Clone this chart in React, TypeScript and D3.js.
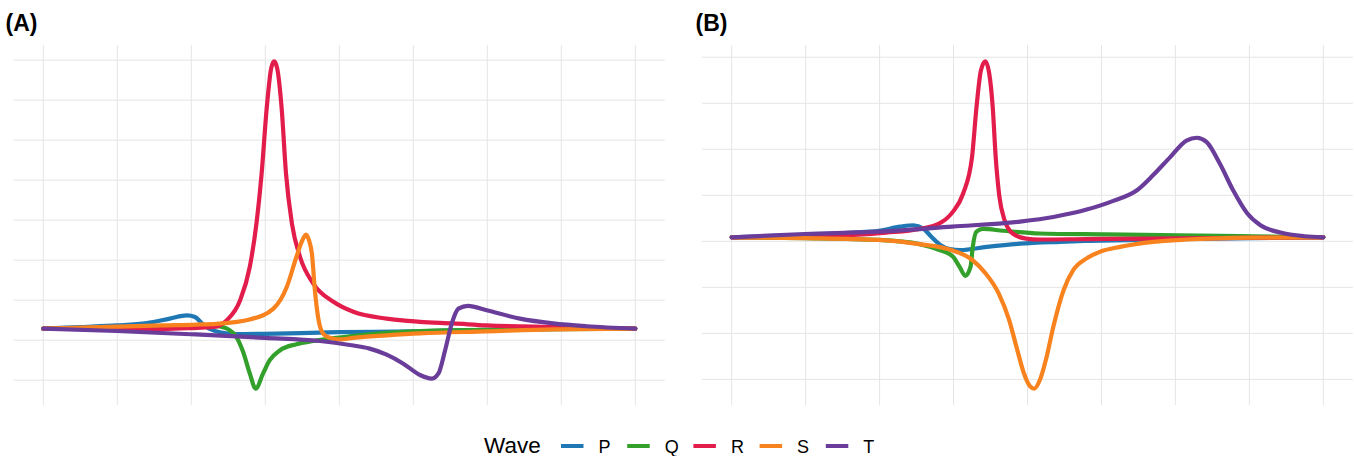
import React from "react";
import * as d3 from "d3";

// ---- Data ----
const waves = ["P", "Q", "R", "S", "T"];
const waveColors = ["#1F78B4", "#33A02C", "#E31D4B", "#F7821E", "#6A3D9A"];
const xTicks = [0, 1, 2, 3, 4, 5, 6, 7, 8];
const yTicksA = [-1, 0, 1, 2, 3, 4, 5, 6, 7];
const yTicksB = [-3, -2, -1, 0, 1, 2, 3, 4];

// Panel A
const aP_x = [0, 0.5, 0.99, 1.4, 1.71, 1.94, 2.05, 2.14, 2.25, 2.41, 2.61, 2.98, 3.98, 5, 6, 7, 8];
const aP_y = [0.29, 0.33, 0.37, 0.43, 0.54, 0.62, 0.58, 0.43, 0.28, 0.19, 0.15, 0.16, 0.2, 0.22, 0.26, 0.28, 0.29];
const aQ_x = [0, 1, 2, 2.34, 2.52, 2.61, 2.7, 2.79, 2.87, 2.97, 3.06, 3.2, 3.42, 3.65, 3.87, 4.14, 5.09, 6.5, 8];
const aQ_y = [0.29, 0.3, 0.32, 0.35, 0.25, 0.08, -0.29, -0.83, -1.21, -0.83, -0.5, -0.25, -0.1, -0.02, 0.04, 0.1, 0.23, 0.27, 0.29];
const aR_x = [0, 0.98, 1.62, 2.07, 2.3, 2.48, 2.66, 2.79, 2.88, 2.95, 3.02, 3.08, 3.12, 3.16, 3.22, 3.28, 3.36, 3.47, 3.65, 3.92, 4.19, 4.64, 5.09, 5.54, 5.99, 6.89, 8];
const aR_y = [0.29, 0.28, 0.28, 0.31, 0.33, 0.5, 1.0, 1.83, 2.91, 4.16, 5.82, 6.8, 6.97, 6.8, 5.82, 4.16, 2.91, 2.08, 1.41, 0.96, 0.71, 0.54, 0.46, 0.42, 0.37, 0.33, 0.29];
const aS_x = [0, 0.99, 1.62, 2.07, 2.34, 2.79, 3.11, 3.29, 3.42, 3.49, 3.55, 3.59, 3.63, 3.67, 3.72, 3.78, 3.87, 4.01, 4.19, 4.64, 5.09, 5.99, 6.89, 8];
const aS_y = [0.29, 0.34, 0.37, 0.39, 0.41, 0.52, 0.79, 1.33, 2.08, 2.45, 2.64, 2.5, 2.16, 1.25, 0.5, 0.17, 0.06, 0.02, 0.06, 0.12, 0.17, 0.22, 0.27, 0.29];
const aT_x = [0, 0.99, 1.99, 2.99, 3.74, 4.14, 4.41, 4.64, 4.86, 5.09, 5.25, 5.34, 5.43, 5.52, 5.61, 5.74, 5.99, 6.44, 6.89, 7.34, 8];
const aT_y = [0.29, 0.23, 0.15, 0.06, -0.02, -0.12, -0.21, -0.36, -0.58, -0.87, -0.96, -0.83, -0.25, 0.42, 0.79, 0.86, 0.75, 0.54, 0.42, 0.35, 0.29];

// Panel B
const bP_x = [0, 0.99, 1.64, 1.99, 2.28, 2.46, 2.59, 2.7, 2.82, 2.95, 3.09, 3.45, 3.9, 4.44, 4.8, 5.7, 8];
const bP_y = [0.087, 0.14, 0.19, 0.23, 0.32, 0.35, 0.28, 0.1, -0.08, -0.17, -0.19, -0.12, -0.05, -0.01, 0.01, 0.04, 0.087];
const bQ_x = [0, 0.99, 1.99, 2.54, 2.81, 2.99, 3.08, 3.16, 3.23, 3.26, 3.31, 3.4, 3.67, 4.16, 5.05, 6.05, 7.05, 8];
const bQ_y = [0.087, 0.07, 0.03, -0.06, -0.19, -0.33, -0.55, -0.75, -0.55, -0.12, 0.21, 0.27, 0.23, 0.17, 0.15, 0.13, 0.11, 0.087];
const bR_x = [0, 0.99, 1.64, 2.09, 2.54, 2.81, 2.99, 3.13, 3.25, 3.31, 3.37, 3.43, 3.48, 3.53, 3.57, 3.62, 3.69, 3.8, 3.98, 4.16, 4.8, 5.7, 8];
const bR_y = [0.087, 0.1, 0.14, 0.19, 0.27, 0.39, 0.64, 1.04, 1.83, 2.91, 3.71, 3.91, 3.67, 2.91, 1.83, 0.97, 0.46, 0.17, 0.06, 0.04, 0.05, 0.06, 0.087];
const bS_x = [0, 0.99, 1.99, 2.54, 2.97, 3.25, 3.43, 3.61, 3.75, 3.86, 3.95, 4.04, 4.09, 4.17, 4.26, 4.35, 4.49, 4.62, 4.8, 4.99, 5.25, 5.7, 6.15, 7.05, 8];
const bS_y = [0.087, 0.07, 0.03, -0.06, -0.19, -0.4, -0.69, -1.13, -1.7, -2.35, -2.86, -3.16, -3.2, -3.0, -2.5, -1.85, -1.05, -0.62, -0.37, -0.22, -0.12, -0.01, 0.04, 0.08, 0.087];
const bT_x = [0, 0.99, 1.99, 2.98, 3.9, 4.35, 4.8, 5.16, 5.48, 5.7, 5.93, 6.15, 6.29, 6.42, 6.6, 6.78, 6.97, 7.15, 7.42, 7.74, 8];
const bT_y = [0.087, 0.16, 0.21, 0.32, 0.43, 0.53, 0.69, 0.88, 1.11, 1.44, 1.83, 2.19, 2.25, 2.16, 1.69, 1.11, 0.61, 0.35, 0.19, 0.11, 0.087];

const panelA = [[aP_x, aP_y], [aQ_x, aQ_y], [aR_x, aR_y], [aS_x, aS_y], [aT_x, aT_y]];
const panelB = [[bP_x, bP_y], [bQ_x, bQ_y], [bR_x, bR_y], [bS_x, bS_y], [bT_x, bT_y]];

const FONT = "'Liberation Sans', Arial, Helvetica, sans-serif";

function Panel({ series, yTicks, left, right, top, bottom, label, labelX }: any) {
  const allX = series.flatMap((s: any) => s[0]);
  const allY = series.flatMap((s: any) => s[1]);
  const [x0, x1] = d3.extent(allX) as [number, number];
  const [y0, y1] = d3.extent(allY) as [number, number];
  const px = (x1 - x0) * 0.05;
  const py = (y1 - y0) * 0.05;
  const x = d3.scaleLinear().domain([x0 - px, x1 + px]).range([left, right]);
  const y = d3.scaleLinear().domain([y0 - py, y1 + py]).range([bottom, top]);
  const line = d3
    .line<[number, number]>()
    .x((d) => x(d[0]))
    .y((d) => y(d[1]))
    .curve(d3.curveMonotoneX);
  return (
    <g>
      <text x={labelX} y={31} fontFamily={FONT} fontWeight="bold" fontSize={23} fill="#000">
        {label}
      </text>
      {yTicks.map((t: number) => (
        <line key={"h" + t} x1={left} x2={right} y1={y(t)} y2={y(t)} stroke="#E5E5E5" strokeWidth={1} />
      ))}
      {xTicks.map((t) => (
        <line key={"v" + t} x1={x(t)} x2={x(t)} y1={top} y2={bottom} stroke="#E5E5E5" strokeWidth={1} />
      ))}
      {series.map((s: any, i: number) => {
        const pts: [number, number][] = s[0].map((xv: number, j: number) => [xv, s[1][j]]);
        return (
          <path key={waves[i]} d={line(pts) || ""} fill="none" stroke={waveColors[i]} strokeWidth={4.2} strokeLinejoin="round" strokeLinecap="round" />
        );
      })}
    </g>
  );
}

export default function App() {
  const legendX0 = 561;
  const step = 66.2;
  return (
    <svg width={1354} height={456} style={{ position: "absolute", left: 0, top: 0, background: "#fff" }}>
      <rect x={0} y={0} width={1354} height={456} fill="#fff" />
      <Panel series={panelA} yTicks={yTicksA} left={13.7} right={664.9} top={45} bottom={405} label="(A)" labelX={5.5} />
      <Panel series={panelB} yTicks={yTicksB} left={702.1} right={1352.9} top={45} bottom={405} label="(B)" labelX={695.5} />
      <g>
        <text x={484} y={452.5} fontFamily={FONT} fontSize={22.5} fill="#000">Wave</text>
        {waves.map((w, i) => (
          <g key={w}>
            <line x1={legendX0 + i * step} x2={legendX0 + i * step + 22.5} y1={446} y2={446} stroke={waveColors[i]} strokeWidth={4} />
            <text x={legendX0 + i * step + 37.5} y={453} fontFamily={FONT} fontSize={18} fill="#000">{w}</text>
          </g>
        ))}
      </g>
    </svg>
  );
}
